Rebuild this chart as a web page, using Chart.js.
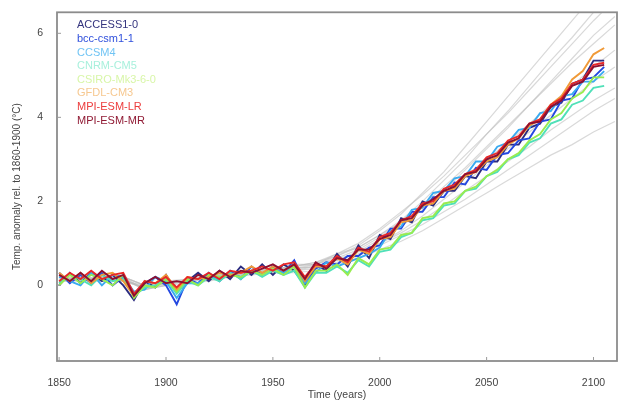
<!DOCTYPE html>
<html><head><meta charset="utf-8">
<script src="https://cdn.jsdelivr.net/npm/chart.js@4.4.1/dist/chart.umd.min.js"></script>
<style>html,body{margin:0;padding:0;background:#fff}#wrap{width:631px;height:402px}</style>
</head><body><div id="wrap"><canvas id="c" width="631" height="402"></canvas></div>
<script>
// ---------- data ----------
const years = [1850,1855,1860,1865,1870,1875,1880,1885,1890,1895,1900,1905,1910,1915,1920,1925,1930,1935,1940,1945,1950,1955,1960,1965,1970,1975,1980,1985,1990,1995,2000,2005,2010,2015,2020,2025,2030,2035,2040,2045,2050,2055,2060,2065,2070,2075,2080,2085,2090,2095,2100,2105];
const modelNames = ["ACCESS1-0","bcc-csm1-1","CCSM4","CNRM-CM5","CSIRO-Mk3-6-0","GFDL-CM3","MPI-ESM-LR","MPI-ESM-MR"];
const access = [0.0,0.3,0.05,0.3,0.1,0.25,0.0,-0.35,0.1,-0.05,0.25,-0.15,0.1,0.3,0.1,0.35,0.15,0.45,0.25,0.5,0.25,0.5,0.35,0.0,0.5,0.35,0.75,0.45,0.95,0.65,1.2,1.1,1.6,1.5,2.0,1.9,2.25,2.25,2.6,2.55,2.95,2.95,3.35,3.35,3.75,3.85,4.25,4.35,4.8,4.9,5.35,5.35];
const bcc = [0.3,0.05,0.25,0.05,0.3,0.0,0.2,-0.2,0.05,0.2,0.0,-0.45,0.15,0.05,0.3,0.1,0.35,0.15,0.45,0.25,0.45,0.3,0.6,0.05,0.4,0.55,0.5,0.7,0.7,0.9,0.95,1.35,1.35,1.75,1.75,2.1,2.1,2.45,2.4,2.8,2.75,3.1,3.15,3.45,3.5,3.9,3.95,4.4,4.45,4.9,4.95,5.2];
const ccsm4 = [0.2,0.1,0.0,0.3,0.0,0.25,0.2,-0.15,-0.1,0.2,0.1,-0.3,0.05,0.05,0.2,0.15,0.3,0.2,0.35,0.25,0.4,0.3,0.45,0.05,0.3,0.55,0.45,0.55,0.65,0.75,0.9,1.3,1.4,1.8,1.85,2.2,2.25,2.55,2.6,2.95,2.95,3.3,3.4,3.7,3.75,4.1,4.15,4.5,4.55,4.85,4.85,5.1];
const cnrm = [0.05,0.25,0.15,0.0,0.25,0.1,0.15,-0.25,-0.05,0.0,0.15,-0.2,0.1,0.0,0.2,0.1,0.3,0.15,0.35,0.2,0.35,0.25,0.35,-0.05,0.3,0.3,0.45,0.3,0.6,0.45,0.8,0.85,1.15,1.25,1.55,1.6,1.9,1.95,2.25,2.3,2.6,2.7,3.0,3.1,3.4,3.5,3.85,3.95,4.3,4.4,4.7,4.75];
const csiro = [0.0,0.25,0.05,0.25,0.15,0.0,0.25,-0.3,0.0,-0.05,0.15,-0.15,0.15,0.0,0.25,0.2,0.25,0.2,0.35,0.25,0.4,0.25,0.45,-0.05,0.35,0.35,0.5,0.25,0.65,0.5,0.85,0.9,1.2,1.25,1.6,1.65,1.95,2.0,2.25,2.35,2.6,2.75,3.0,3.15,3.45,3.6,3.95,4.1,4.45,4.6,4.95,4.95];
const gfdl = [0.3,0.1,0.3,0.05,0.25,0.3,0.1,-0.25,0.1,0.05,0.25,-0.1,0.2,0.15,0.2,0.3,0.25,0.3,0.45,0.3,0.45,0.35,0.5,0.1,0.45,0.45,0.65,0.5,0.85,0.75,1.1,1.15,1.5,1.55,1.9,1.95,2.25,2.3,2.6,2.7,2.95,3.05,3.35,3.5,3.8,3.95,4.3,4.5,4.9,5.1,5.5,5.65];
const mpiLR = [0.1,0.3,0.15,0.35,0.15,0.25,0.3,-0.2,0.1,0.05,0.2,-0.05,0.2,0.15,0.3,0.15,0.35,0.3,0.35,0.45,0.35,0.5,0.55,0.2,0.5,0.45,0.7,0.55,0.9,0.8,1.15,1.25,1.55,1.65,1.95,2.0,2.3,2.4,2.65,2.75,3.05,3.15,3.45,3.55,3.85,3.95,4.3,4.45,4.8,4.9,5.25,5.3];
const mpiMR = [0.25,0.1,0.3,0.1,0.35,0.15,0.25,-0.25,0.05,0.2,0.05,0.1,0.05,0.25,0.15,0.35,0.2,0.35,0.3,0.4,0.5,0.35,0.5,0.15,0.55,0.4,0.65,0.6,0.85,0.85,1.1,1.2,1.55,1.6,1.9,2.05,2.25,2.35,2.65,2.7,3.0,3.1,3.4,3.5,3.85,3.9,4.25,4.4,4.75,4.85,5.2,5.25];

// other models (grey), decadal
const greyYears = [1850,1860,1870,1880,1890,1900,1910,1920,1930,1940,1950,1960,1970,1980,1990,2000,2010,2020,2030,2040,2050,2060,2070,2080,2090,2100,2110];
const grey1 = [0.1,0.15,0.1,0.2,-0.1,0.05,0.1,0.2,0.3,0.35,0.4,0.45,0.55,0.7,0.95,1.3,1.7,2.2,2.7,3.3,3.9,4.5,5.1,5.7,6.3,6.9,7.4];
const grey2 = [0.2,0.1,0.2,0.1,0.0,0.1,0.15,0.25,0.25,0.3,0.35,0.5,0.5,0.75,0.9,1.2,1.55,2.0,2.5,3.0,3.6,4.15,4.75,5.35,5.9,6.5,7.0];
const grey3 = [0.1,0.2,0.15,0.1,-0.05,0.0,0.1,0.15,0.2,0.3,0.3,0.35,0.45,0.6,0.8,1.1,1.4,1.8,2.25,2.75,3.25,3.75,4.3,4.85,5.4,5.95,6.4];
const grey4 = [0.1,0.15,0.1,0.15,-0.1,0.0,0.05,0.1,0.2,0.25,0.3,0.3,0.35,0.5,0.65,0.85,1.05,1.3,1.6,1.9,2.2,2.5,2.8,3.1,3.35,3.65,3.9];
const grey5 = [0.15,0.2,0.15,0.2,0.0,0.05,0.1,0.2,0.25,0.3,0.35,0.4,0.45,0.6,0.8,1.0,1.25,1.55,1.9,2.25,2.6,2.95,3.3,3.7,4.05,4.4,4.7];
const grey6 = [0.2,0.1,0.2,0.15,-0.05,0.05,0.1,0.2,0.3,0.35,0.4,0.4,0.5,0.65,0.85,1.15,1.5,1.9,2.35,2.8,3.3,3.8,4.3,4.8,5.3,5.75,6.2];
const grey7 = [0.1,0.1,0.15,0.15,-0.1,0.0,0.15,0.2,0.25,0.35,0.35,0.45,0.5,0.7,0.9,1.2,1.5,1.85,2.2,2.6,3.0,3.4,3.85,4.3,4.75,5.2,5.6];
const grey8 = [0.15,0.2,0.1,0.2,0.0,0.1,0.1,0.15,0.2,0.3,0.3,0.35,0.4,0.55,0.7,0.95,1.2,1.45,1.75,2.05,2.4,2.75,3.1,3.45,3.8,4.15,4.45];
const grey9 = [0.1,0.15,0.2,0.1,-0.05,0.05,0.1,0.2,0.3,0.3,0.4,0.45,0.55,0.75,1.0,1.35,1.75,2.15,2.6,3.1,3.6,4.1,4.65,5.2,5.75,6.3,6.8];
const grey10 = [0.2,0.15,0.15,0.2,0.0,0.05,0.15,0.2,0.25,0.3,0.35,0.4,0.45,0.6,0.75,1.0,1.3,1.65,2.05,2.45,2.85,3.25,3.65,4.05,4.45,4.85,5.2];

const xTickValues = [1850,1900,1950,2000,2050,2100];
const yTickValues = [0,2,4,6];

// ---------- styles ----------
const modelSeries = [access,bcc,ccsm4,cnrm,csiro,gfdl,mpiLR,mpiMR];
const lineColors = ["#2c2c80","#2448e0","#3aaaf0","#50e0b8","#98ec50","#f09a38","#e82828","#8e1030"];
const textColors = ["#34347e","#3050dc","#70c4f4","#a8f0dc","#d8f6a8","#f6c890","#ec3c3c","#901a34"];
const greySeries = [grey1,grey2,grey3,grey4,grey5,grey6,grey7,grey8,grey9,grey10];

const datasets = [];
greySeries.forEach((g,i)=>{
  datasets.push({label:"other"+i, data:greyYears.map((y,k)=>({x:y,y:g[k]})),
    borderColor:"rgba(185,185,185,0.55)", borderWidth:1.2, pointRadius:0, tension:0, order:100});
});
modelSeries.forEach((s,i)=>{
  datasets.push({label:modelNames[i], data:years.map((y,k)=>({x:y,y:s[k]})),
    borderColor:lineColors[i], borderWidth:1.9, pointRadius:0, tension:0, order:8-i});
});

const framePlugin = {
  id:'frame',
  beforeDraw(chart){
    const c=chart.ctx; c.save(); c.fillStyle='#fff'; c.fillRect(0,0,chart.width,chart.height); c.restore();
  },
  afterDraw(chart){
    const {ctx, chartArea:a, scales} = chart;
    ctx.save();
    ctx.strokeStyle='#8c8c8c'; ctx.lineWidth=1.8;
    ctx.strokeRect(a.left,a.top,a.right-a.left,a.bottom-a.top);
    ctx.lineWidth=1; ctx.strokeStyle='#9a9a9a';
    xTickValues.forEach(v=>{const x=scales.x.getPixelForValue(v); ctx.beginPath(); ctx.moveTo(x,a.bottom); ctx.lineTo(x,a.bottom-4); ctx.stroke();});
    yTickValues.forEach(v=>{const y=scales.y.getPixelForValue(v); ctx.beginPath(); ctx.moveTo(a.left,y); ctx.lineTo(a.left+4,y); ctx.stroke();});
    // legend text inside the axes
    ctx.font='11px "Liberation Sans", Arial, sans-serif';
    ctx.textBaseline='middle'; ctx.textAlign='left';
    modelNames.forEach((n,i)=>{ ctx.fillStyle=textColors[i]; ctx.fillText(n, a.left+20, a.top+13+i*13.6); });
    ctx.restore();
  }
};

new Chart(document.getElementById('c'), {
  type:'line',
  data:{datasets},
  options:{
    responsive:false, animation:false, devicePixelRatio:1,
    layout:{padding:{top:12,right:14,left:0,bottom:0}},
    plugins:{legend:{display:false}, tooltip:{enabled:false}},
    scales:{
      x:{type:'linear', min:1849, max:2111,
        grid:{display:false}, border:{display:false},
        afterBuildTicks:s=>{s.ticks=xTickValues.map(v=>({value:v}));},
        afterFit:s=>{s.height=41;},
        ticks:{font:{size:10.5,family:'"Liberation Sans", Arial, sans-serif'}, color:'#444', padding:8, maxRotation:0, autoSkip:false, callback:v=>String(v)},
        title:{display:true, text:'Time (years)', color:'#444', font:{size:10.5,family:'"Liberation Sans", Arial, sans-serif'}, padding:{top:0,bottom:1}}
      },
      y:{type:'linear', min:-1.8, max:6.5,
        grid:{display:false}, border:{display:false},
        afterBuildTicks:s=>{s.ticks=yTickValues.map(v=>({value:v}));},
        afterFit:s=>{s.width=57;},
        ticks:{font:{size:10.5,family:'"Liberation Sans", Arial, sans-serif'}, color:'#444', padding:6, callback:v=>String(v)},
        title:{display:true, text:'Temp. anomaly rel. to 1860-1900 (°C)', color:'#444', font:{size:10,family:'"Liberation Sans", Arial, sans-serif'}, padding:{top:11,bottom:0}}
      }
    }
  },
  plugins:[framePlugin]
});
</script>
</body></html>
